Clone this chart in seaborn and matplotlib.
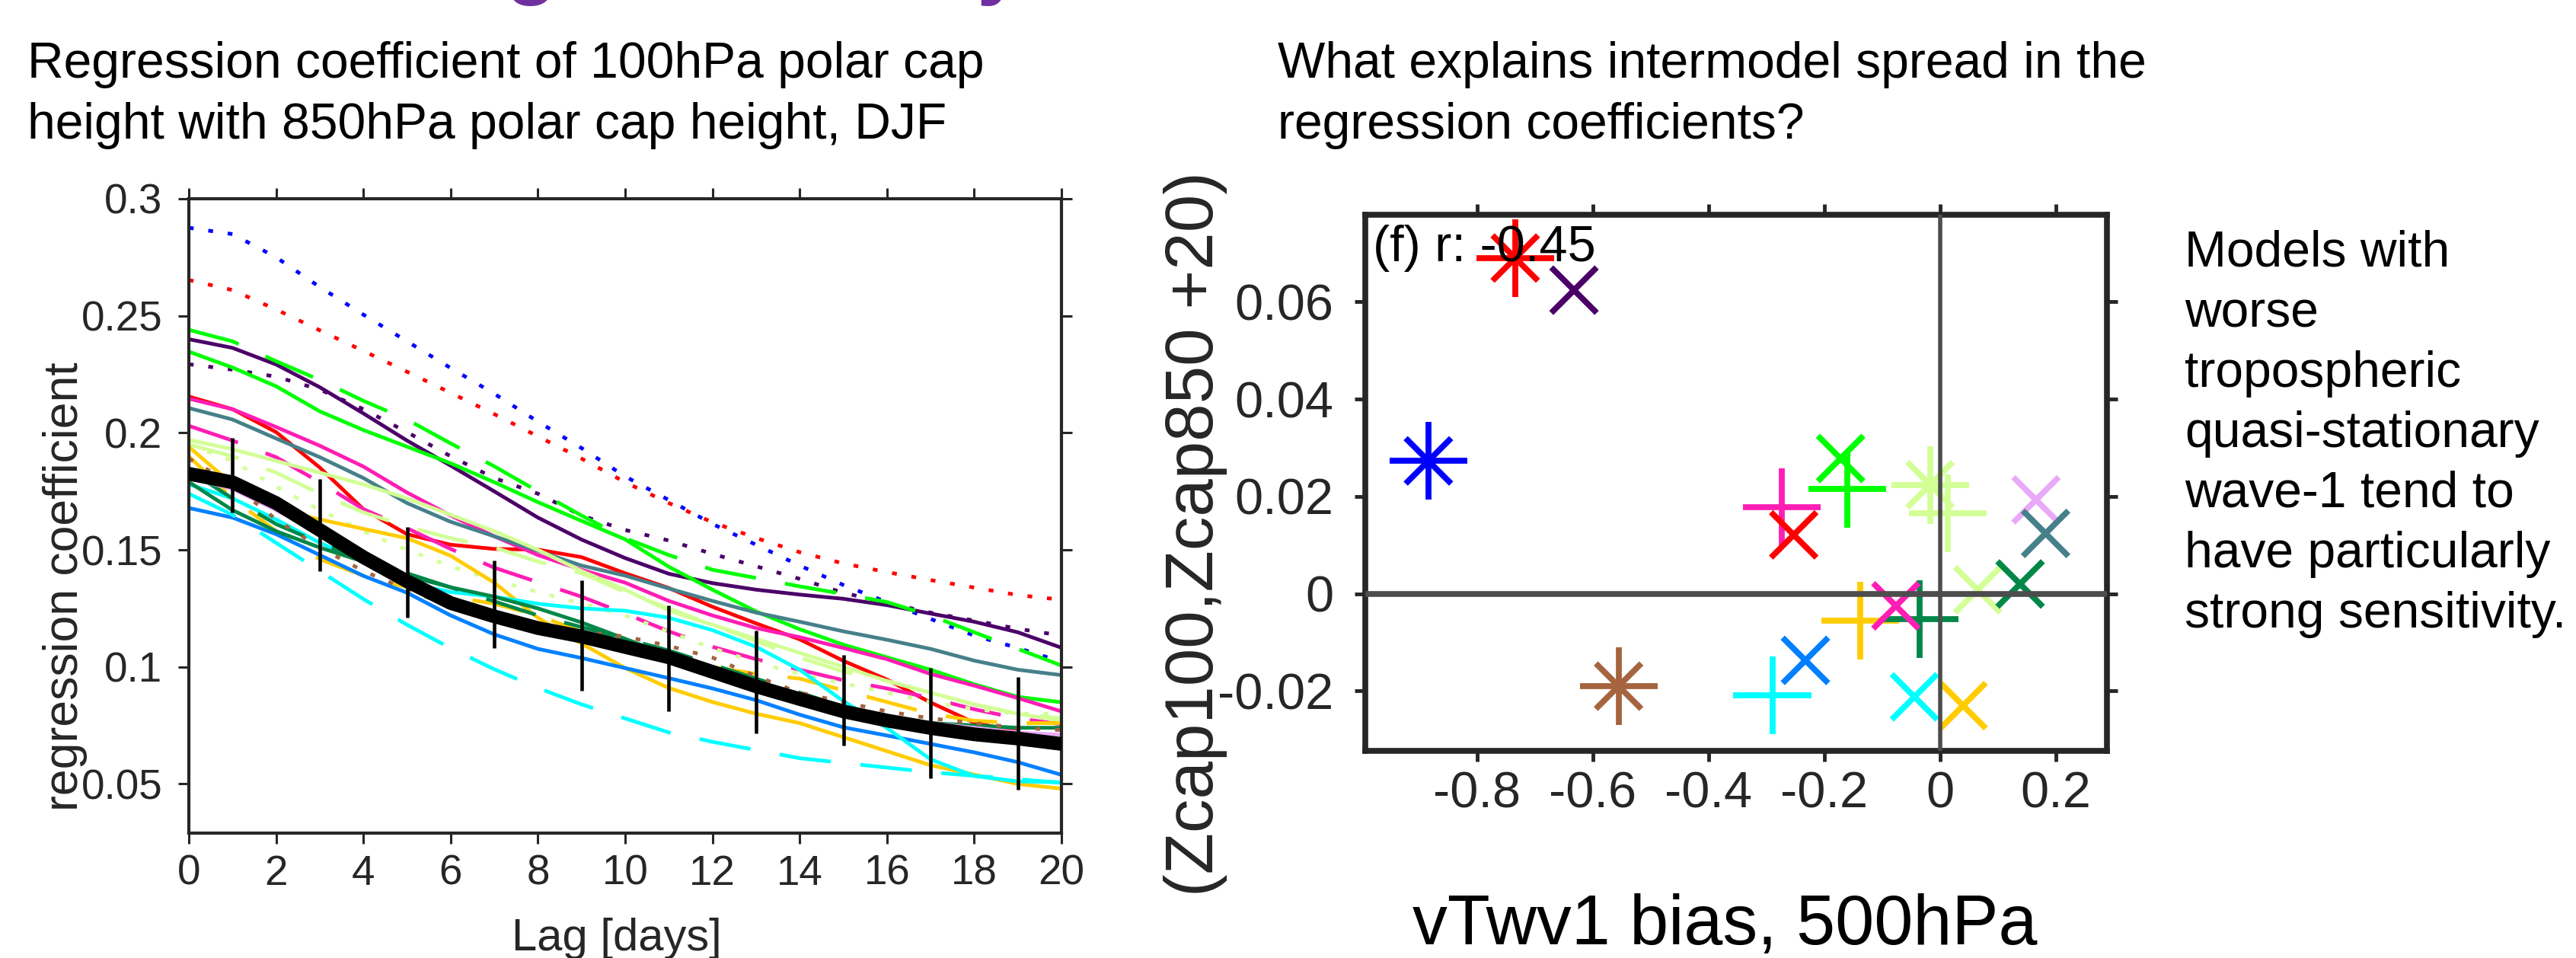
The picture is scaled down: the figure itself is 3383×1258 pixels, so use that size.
import matplotlib

matplotlib.use("Agg")

import matplotlib.pyplot as plt  # noqa: E402
import pandas as pd  # noqa: E402
import seaborn as sns  # noqa: E402

W, H, DPI = 3383, 1258, 100

# ---- left panel: regression coefficient vs lag, one curve per model ----
LAGS = list(range(21))
BLUE_DOT = [.2876, .2849, .2750, .2623, .2505, .2391, .2277, .2167, .2048, .1935, .1814,
            .1713, .1611, .1522, .1433, .1350, .1277, .1205, .1134, .1081, .1022]
RED_DOT = [.2653, .2610, .2527, .2438, .2350, .2261, .2171, .2080, .1985, .1890, .1789,
           .1700, .1618, .1551, .1490, .1442, .1405, .1371, .1339, .1307, .1287]
PURPLE = [.2400, .2363, .2292, .2195, .2083, .1967, .1860, .1750, .1638, .1544, .1465,
          .1398, .1358, .1330, .1309, .1291, .1264, .1228, .1193, .1148, .1082]
PURPLE_DOT = [.2293, .2270, .2240, .2185, .2101, .2003, .1900, .1807, .1740, .1647, .1585,
              .1540, .1483, .1430, .1376, .1317, .1273, .1232, .1198, .1163, .1134]
GREEN_DASH = [.2440, .2391, .2306, .2226, .2137, .2057, .1955, .1857, .1750, .1647, .1550,
              .1478, .1415, .1380, .1344, .1312, .1277, .1219, .1148, .1077, .1006]
GREEN = [.2347, .2279, .2199, .2092, .2012, .1941, .1870, .1789, .1704, .1624, .1545,
         .1428, .1330, .1237, .1161, .1095, .1041, .0988, .0926, .0872, .0849]
RED = [.2155, .2101, .2003, .1852, .1674, .1567, .1522, .1504, .1501, .1469, .1400,
       .1337, .1257, .1186, .1118, .1026, .0946, .0848, .0762, .0723, .0660]
PINK = [.2146, .2101, .2025, .1945, .1856, .1745, .1647, .1558, .1478, .1415, .1360,
        .1282, .1220, .1166, .1127, .1081, .1033, .0970, .0920, .0867, .0810]
TEAL = [.2106, .2057, .1976, .1896, .1807, .1700, .1620, .1558, .1496, .1433, .1390,
        .1335, .1282, .1232, .1193, .1152, .1116, .1077, .1027, .0988, .0965]
PINK_DASH = [.2030, .1967, .1896, .1789, .1674, .1593, .1504, .1424, .1362, .1300, .1228,
             .1152, .1086, .1033, .0988, .0943, .0908, .0867, .0819, .0780, .0755]
LGREEN = [.1970, .1930, .1880, .1830, .1780, .1720, .1650, .1580, .1500, .1410, .1330,
          .1240, .1180, .1120, .1060, .1000, .0940, .0890, .0840, .0800, .0770]
LGREEN_DASH = [.1950, .1900, .1830, .1740, .1660, .1600, .1550, .1510, .1450, .1400, .1320,
               .1250, .1180, .1110, .1040, .0980, .0940, .0890, .0840, .0800, .0780]
LGREEN_DOT = [.1950, .1880, .1770, .1670, .1580, .1500, .1430, .1370, .1320, .1270, .1220,
              .1150, .1080, .1020, .0970, .0930, .0890, .0850, .0820, .0800, .0800]
YELLOW = [.1940, .1780, .1670, .1630, .1590, .1550, .1475, .1360, .1210, .1100, .0995,
          .0910, .0850, .0800, .0760, .0700, .0640, .0580, .0540, .0500, .0480]
YELLOW_DASH = [.1900, .1720, .1580, .1460, .1390, .1340, .1300, .1270, .1220, .1150, .1080,
               .1030, .1000, .0970, .0950, .0900, .0850, .0800, .0770, .0760, .0760]
AZURE = [.1679, .1638, .1567, .1478, .1389, .1317, .1220, .1139, .1077, .1038, .0995,
         .0952, .0908, .0858, .0796, .0742, .0707, .0671, .0635, .0593, .0539]
CYAN = [.1780, .1720, .1630, .1530, .1450, .1360, .1320, .1300, .1270, .1250, .1240,
        .1210, .1157, .1086, .0988, .0854, .0739, .0605, .0534, .0511, .0507]
CYAN_DASH = [.1740, .1650, .1530, .1410, .1290, .1180, .1080, .0990, .0910, .0840, .0780,
             .0720, .0680, .0645, .0610, .0590, .0570, .0550, .0535, .0520, .0505]
DGREEN = [.1790, .1670, .1580, .1510, .1450, .1390, .1340, .1300, .1250, .1190, .1120,
          .1050, .0970, .0900, .0850, .0810, .0780, .0760, .0750, .0740, .0740]
DGREEN_DASH = [.1840, .1720, .1610, .1530, .1460, .1400, .1340, .1280, .1220, .1170, .1120,
               .1070, .1010, .0950, .0890, .0830, .0780, .0730, .0700, .0670, .0660]
VIOLET = [.1810, .1760, .1670, .1570, .1460, .1370, .1290, .1230, .1180, .1140, .1100,
          .1050, .0990, .0930, .0880, .0830, .0790, .0760, .0740, .0720, .0710]
BROWN_DOT = [.1890, .1780, .1630, .1510, .1410, .1330, .1260, .1210, .1170, .1150, .1130,
             .1090, .1040, .0960, .0890, .0850, .0810, .0780, .0760, .0740, .0730]

MEAN = [.1825, .1789, .1700, .1585, .1469, .1366, .1273, .1216, .1166, .1130, .1085,
        .1041, .0979, .0917, .0863, .0810, .0771, .0739, .0712, .0694, .0671]
ERR_LAGS = [1, 3, 5, 7, 9, 11, 13, 15, 17, 19]
ERR_LO = [.1661, .1410, .1211, .1081, .0899, .0810, .0716, .0664, .0525, .0477]
ERR_HI = [.1980, .1802, .1597, .1455, .1371, .1264, .1154, .1050, .0997, .0956]

COLORS = {
    "blue": "#0000ff", "red": "#ff0000", "purple": "#4b0068", "green": "#00ff00",
    "pink": "#ff1eb4", "teal": "#46808a", "lgreen": "#d2ff96", "yellow": "#ffcc00",
    "azure": "#0080ff", "cyan": "#00ffff", "dgreen": "#008748", "violet": "#e8aaf8",
    "brown": "#a5643f",
}
DASHES = {"-": "", "--": (14, 8), ":": (1.3, 4)}

LINES = [
    ("blue :", "blue", ":", BLUE_DOT), ("red :", "red", ":", RED_DOT),
    ("purple -", "purple", "-", PURPLE), ("purple :", "purple", ":", PURPLE_DOT),
    ("green --", "green", "--", GREEN_DASH), ("green -", "green", "-", GREEN),
    ("red -", "red", "-", RED), ("pink -", "pink", "-", PINK), ("teal -", "teal", "-", TEAL),
    ("pink --", "pink", "--", PINK_DASH), ("lgreen -", "lgreen", "-", LGREEN),
    ("lgreen --", "lgreen", "--", LGREEN_DASH), ("lgreen :", "lgreen", ":", LGREEN_DOT),
    ("yellow -", "yellow", "-", YELLOW), ("yellow --", "yellow", "--", YELLOW_DASH),
    ("azure -", "azure", "-", AZURE), ("cyan -", "cyan", "-", CYAN),
    ("cyan --", "cyan", "--", CYAN_DASH), ("dgreen -", "dgreen", "-", DGREEN),
    ("dgreen --", "dgreen", "--", DGREEN_DASH), ("violet -", "violet", "-", VIOLET),
    ("brown :", "brown", ":", BROWN_DOT),
]

# ---- right panel: regression coefficient anomaly vs vTwv1 bias ----
SC_X = [-0.734, -0.6325, -0.884, -0.172, -0.1605, -0.274, -0.253, -0.0175, 0.0126, 0.1655,
        0.182, 0.0647, 0.138, -0.0765, -0.138, -0.036, -0.2328, -0.5555, -0.29, -0.0445,
        0.0395]
SC_Y = [0.069, 0.0624, 0.0273, 0.0278, 0.0216, 0.0178, 0.0121, 0.0224, 0.0165, 0.0193,
        0.0124, 0.0008, 0.0020, -0.0025, -0.0056, -0.0052, -0.0137, -0.019, -0.0209,
        -0.0212, -0.023]
SC_COLOR = ["red", "purple", "blue", "green", "green", "pink", "red", "lgreen", "lgreen",
            "violet", "teal", "lgreen", "dgreen", "pink", "yellow", "dgreen", "azure",
            "brown", "cyan", "cyan", "yellow"]
SC_MARK = ["*", "x", "*", "x", "+", "+", "x", "*", "+", "x", "x", "x", "x", "x", "+", "+",
           "x", "*", "+", "x", "x"]

INK = "#262626"


def fx(x):
    return x / W


def fy(y):
    return 1 - y / H


def style_axes(ax, lw, tick_len, tick_w, size, xpad, ypad):
    for s in ax.spines.values():
        s.set_visible(True)
        s.set_linewidth(lw)
        s.set_color(INK)
    ax.tick_params(which="both", direction="out", top=True, right=True,
                   length=tick_len, width=tick_w, color=INK, labelcolor=INK,
                   labelsize=size)
    ax.tick_params(axis="x", pad=xpad)
    ax.tick_params(axis="y", pad=ypad)
    ax.grid(False)


def main():
    sns.set_theme(style="ticks")
    plt.rcParams["font.family"] = ["Liberation Sans", "DejaVu Sans"]
    plt.rcParams["axes.unicode_minus"] = False

    fig = plt.figure(figsize=(W / DPI, H / DPI), dpi=DPI)
    fig.patch.set_facecolor("white")

    # left panel
    ax = fig.add_axes([fx(248), fy(1094), fx(1394 - 248), (1094 - 261) / H])
    rows = []
    for name, col, ls, vals in LINES:
        rows.append(pd.DataFrame({"lag": LAGS, "coef": vals, "model": name}))
    df = pd.concat(rows, ignore_index=True)
    sns.lineplot(
        data=df, x="lag", y="coef", hue="model", style="model",
        palette={n: COLORS[c] for n, c, _, _ in LINES},
        dashes={n: DASHES[ls] for n, _, ls, _ in LINES},
        estimator=None, lw=3.5, legend=False, ax=ax,
    )
    sns.lineplot(x=LAGS, y=MEAN, color="black", lw=13, ax=ax, zorder=4)
    ax.vlines(ERR_LAGS, ERR_LO, ERR_HI, color="black", lw=3.3, zorder=5)
    ax.set_xlim(0, 20)
    ax.set_ylim(0.029, 0.3)
    ax.set_xticks(range(0, 21, 2))
    ax.set_yticks([0.05, 0.1, 0.15, 0.2, 0.25, 0.3])
    ax.set_yticklabels(["0.05", "0.1", "0.15", "0.2", "0.25", "0.3"])
    ax.set_xlabel("")
    ax.set_ylabel("")
    style_axes(ax, 3, 10, 2.2, 39.5, 10, 15)
    fig.text(fx(86), fy(770), "regression coefficient", rotation=90, ha="center",
             va="center", fontsize=45, color=INK)
    fig.text(fx(810), fy(1248), "Lag [days]", ha="center", va="baseline",
             fontsize=43, color=INK)

    # right panel
    ax2 = fig.add_axes([fx(1793), fy(986), fx(2767 - 1793), (986 - 282) / H])
    sc = pd.DataFrame({"x": SC_X, "y": SC_Y, "c": SC_COLOR, "m": SC_MARK})
    pal = {k: COLORS[k] for k in COLORS}
    plus = sc[sc["m"].isin(["+", "*"])]
    cross = sc[sc["m"].isin(["x", "*"])]
    sns.scatterplot(data=plus, x="x", y="y", hue="c", palette=pal, marker="+",
                    s=73.5 ** 2, linewidth=5.6, legend=False, ax=ax2, zorder=2)
    sns.scatterplot(data=cross, x="x", y="y", hue="c", palette=pal, marker="x",
                    s=43 ** 2, linewidth=5.6, legend=False, ax=ax2, zorder=2)
    ax2.axhline(0, color="#4d4d4d", lw=5.5, zorder=3)
    ax2.axvline(0, color="#4d4d4d", lw=4, zorder=3)
    ax2.set_xlim(-0.993, 0.288)
    ax2.set_ylim(-0.0323, 0.0779)
    ax2.set_xticks([-0.8, -0.6, -0.4, -0.2, 0, 0.2])
    ax2.set_xticklabels(["-0.8", "-0.6", "-0.4", "-0.2", "0", "0.2"])
    ax2.set_yticks([-0.02, 0, 0.02, 0.04, 0.06])
    ax2.set_yticklabels(["-0.02", "0", "0.02", "0.04", "0.06"])
    ax2.set_xlabel("")
    ax2.set_ylabel("")
    style_axes(ax2, 5.5, 10, 3.5, 48, 9, 20)
    fig.text(fx(1803), fy(343), "(f) r: -0.45", ha="left", va="baseline",
             fontsize=48, color="black", zorder=6)
    fig.text(fx(1570), fy(701), "(Zcap100,Zcap850 +20)", rotation=90, ha="center",
             va="center", fontsize=64, color=INK)
    fig.text(fx(2265), fy(1240), "vTwv1 bias, 500hPa", ha="center", va="baseline",
             fontsize=66, color="black")

    # headings and side note
    fig.text(fx(36), fy(102), "Regression coefficient of 100hPa polar cap",
             va="baseline", fontsize=47.5, color="black")
    fig.text(fx(36), fy(182), "height with 850hPa polar cap height, DJF",
             va="baseline", fontsize=47.5, color="black")
    fig.text(fx(1678), fy(102), "What explains intermodel spread in the",
             va="baseline", fontsize=47.5, color="black")
    fig.text(fx(1678), fy(182), "regression coefficients?",
             va="baseline", fontsize=47.5, color="black")
    note = ["Models with", "worse", "tropospheric", "quasi-stationary",
            "wave-1 tend to", "have particularly", "strong sensitivity."]
    for i, line in enumerate(note):
        fig.text(fx(2869), fy(350 + 79 * i), line, va="baseline", fontsize=47.5,
                 color="black")

    # descenders of the slide title cut off at the top edge
    fig.text(fx(664), fy(-15), "g", va="baseline", fontsize=80, fontweight="bold",
             color="#7030a0")
    fig.text(fx(1282), fy(-15), "y", va="baseline", fontsize=80, fontweight="bold",
             color="#7030a0")

    fig.savefig("out.png", dpi=DPI, facecolor="white")
    plt.close(fig)


if __name__ == "__main__":
    main()
